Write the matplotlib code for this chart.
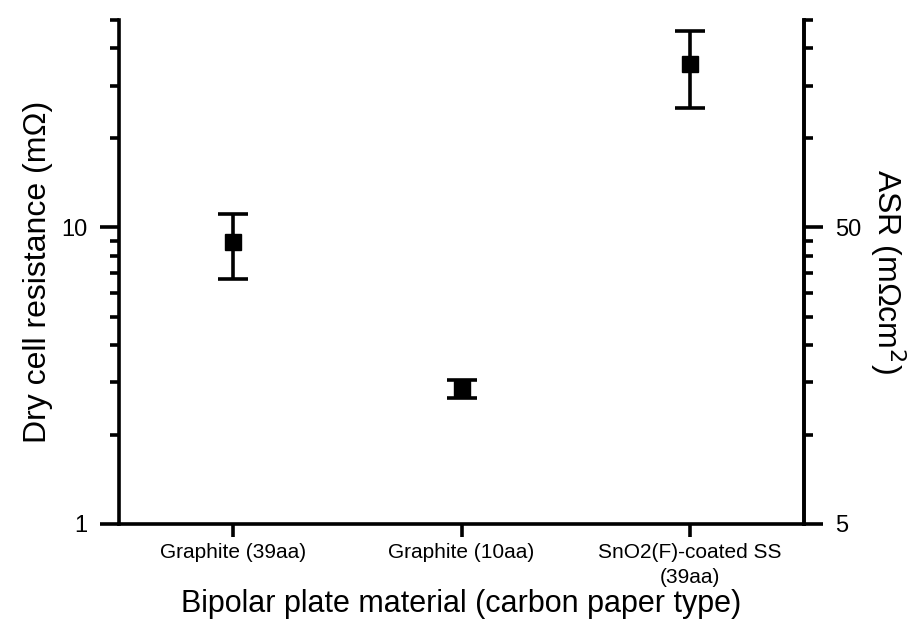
import numpy as np
import matplotlib
matplotlib.use("Agg")
import matplotlib.pyplot as plt
from matplotlib.ticker import FixedLocator, NullFormatter

plt.rcParams['font.family'] = ['Liberation Sans', 'DejaVu Sans']

# data
materials = ["Graphite (39aa)", "Graphite (10aa)", "SnO2(F)-coated SS\n(39aa)"]
resistance = [8.9, 2.85, 35.5]      # mOhm
res_err = [2.2, 0.2, 10.2]
area_factor = 5.0                    # ASR / resistance

fig = plt.figure(figsize=(9.17, 6.22), dpi=100)
ax = fig.add_axes([0.1298, 0.1576, 0.7470, 0.8107])

x = np.arange(len(materials))
ax.errorbar(x, resistance, yerr=res_err, fmt='s', color='black', ms=11,
            elinewidth=2.6, capsize=11, capthick=2.6, clip_on=False)

ax.set_yscale('log')
ax.set_ylim(1, 50)
ax.set_xlim(-0.5, 2.5)
ax.set_yticks([1, 10])
ax.set_yticklabels(['1', '10'])
ax.yaxis.set_minor_locator(FixedLocator([2, 3, 4, 5, 6, 7, 8, 9, 20, 30, 40, 50]))
ax.yaxis.set_minor_formatter(NullFormatter())
ax.set_xticks(x)
ax.set_xticklabels(materials, linespacing=1.35)

for s in ['left', 'right', 'bottom']:
    ax.spines[s].set_linewidth(2.6)
ax.spines['top'].set_visible(False)

ax.tick_params(axis='y', which='major', length=13.5, width=2.6, labelsize=17, pad=9)
ax.tick_params(axis='y', which='minor', length=6.5, width=2.6)
ax.tick_params(axis='x', which='major', length=9, width=2.6, labelsize=15, pad=5)

ax.set_ylabel('Dry cell resistance (m\u03a9)', fontsize=23, labelpad=6)
ax.set_xlabel('Bipolar plate material (carbon paper type)', fontsize=22, labelpad=2)

ax2 = ax.twinx()
ax2.set_yscale('log')
ax2.set_ylim(1 * area_factor, 50 * area_factor)
ax2.set_yticks([5, 50])
ax2.set_yticklabels(['5', '50'])
ax2.yaxis.set_minor_locator(FixedLocator([area_factor * v for v in [2, 3, 4, 5, 6, 7, 8, 9, 20, 30, 40, 50]]))
ax2.yaxis.set_minor_formatter(NullFormatter())
ax2.spines['right'].set_linewidth(2.6)
ax2.spines['top'].set_visible(False)
ax2.tick_params(axis='y', which='major', length=13.5, width=2.6, labelsize=17, pad=9)
ax2.tick_params(axis='y', which='minor', length=6.5, width=2.6)
ax2.set_ylabel('ASR (m\u03a9cm$^2$)', fontsize=23, rotation=270, labelpad=33)

fig.savefig('out.png', dpi=100)
